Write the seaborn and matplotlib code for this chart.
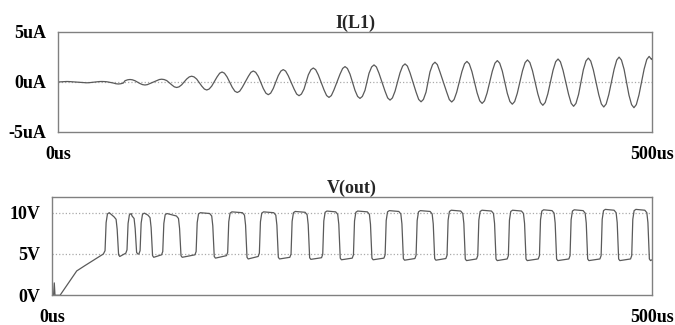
import numpy as np
import pandas as pd
import matplotlib
matplotlib.use("Agg")
import matplotlib.pyplot as plt
import seaborn as sns

# I(L1): extrema (time in us, current in uA)
il1_t = [0, 7.3, 24.1, 36.8, 50.8, 60.6, 73.2, 87.3, 99.9, 112.5, 125.2, 138.1,
         150.9, 164.4, 177.0, 189.6, 202.9, 214.9, 228.1, 241.6, 254.2, 266.0,
         279.5, 292.1, 305.6, 317.3, 331.4, 344.2, 357.0, 369.8, 382.4, 395.2,
         408.1, 420.9, 434.0, 446.4, 459.4, 472.3, 484.8, 497.6, 500]
il1_v = [0, 0.05, -0.08, 0.05, -0.2, 0.25, -0.3, 0.28, -0.55, 0.58, -0.8, 1.0,
         -1.05, 1.1, -1.27, 1.24, -1.37, 1.4, -1.54, 1.54, -1.64, 1.71,
         -1.81, 1.81, -1.98, 1.98, -2.0, 2.06, -2.14, 2.14, -2.22, 2.21,
         -2.33, 2.3, -2.43, 2.39, -2.5, 2.49, -2.57, 2.56, 2.35]

# V(out): start-up part, then one entry per pulse
start_t = [0, 1.3, 1.9, 2.5, 6.7, 20.6, 27.5, 42.8]
start_v = [0, 0, 1.5, 0, 0, 2.95, 3.6, 5.0]
rise_us = [44.7, 63.0, 73.9, 92.8, 120.6, 146.9, 173.3, 199.7, 226.1, 251.7,
           278.1, 303.9, 329.7, 355.3, 380.8, 406.7, 432.2, 458.1, 483.6]
fall_us = [54.7, 69.7, 83.0, 106.7, 134.4, 161.7, 187.8, 213.9, 239.4, 265.8,
           292.0, 318.1, 343.6, 369.2, 394.2, 419.7, 445.6, 471.4, 497.0]
high_v = [10.0, 9.9, 9.95, 9.9, 10.0, 10.1, 10.1, 10.15, 10.2, 10.2,
          10.25, 10.25, 10.3, 10.3, 10.3, 10.35, 10.35, 10.4, 10.4]
high_end_v = [9.5, 9.6, 9.7, 9.6, 9.9, 10.0, 10.0, 10.05, 10.1, 10.1,
              10.15, 10.15, 10.2, 10.2, 10.2, 10.25, 10.25, 10.3, 10.3]
low_v = [4.7, 5.0, 4.6, 4.6, 4.5, 4.4, 4.4, 4.35, 4.3, 4.3,
         4.25, 4.25, 4.2, 4.2, 4.2, 4.2, 4.2, 4.2, 4.2]
low_end_v = [5.1, 5.0, 4.9, 4.9, 4.8, 4.7, 4.6, 4.55, 4.5, 4.5,
             4.45, 4.45, 4.4, 4.4, 4.4, 4.4, 4.4, 4.4, 4.3]

i_ticks = [-5, 0, 5]
i_labels = ["-5uA", "0uA", "5uA"]
v_ticks = [0, 5, 10]
v_labels = ["0V", "5V", "10V"]
t_ticks = [0, 500]
t_labels = ["0us", "500us"]

# rounding of peaks and pulse edges (drawing style only)
peak_dt = [2.0, 4.2]
peak_k = [0.88, 0.51]
rise_dt = [0.4, 1.5, 3.0]
rise_dv = [-1.2, -0.15, 0.0]
fall_dt = [-3.0, -1.3, -0.4]
fall_dv = [0.0, -0.3, -1.5]

# current trace with rounded extrema
it, iv = [il1_t[0]], [il1_v[0]]
for k in range(1, len(il1_t) - 1):
    t0, v0 = il1_t[k], il1_v[k]
    for d, a in zip(peak_dt[::-1], peak_k[::-1]):
        it.append(t0 - d)
        iv.append(a * v0)
    it.append(t0)
    iv.append(v0)
    for d, a in zip(peak_dt, peak_k):
        if t0 + d < il1_t[-1]:
            it.append(t0 + d)
            iv.append(a * v0)
it.append(il1_t[-1])
iv.append(il1_v[-1])

# output trace with rounded pulse edges
vt = list(start_t)
vv = list(start_v)
for k in range(len(rise_us)):
    r, f = rise_us[k], fall_us[k]
    vt += [r - 0.5] + [r + d for d in rise_dt]
    vv += [vv[-1] + 0.4] + [high_v[k] + d for d in rise_dv]
    vt += [f + d for d in fall_dt] + [f + 0.8, f + 1.8]
    vv += [high_end_v[k] + d for d in fall_dv] + [low_v[k] + 0.2, low_v[k]]
    if k + 1 < len(rise_us):
        vt.append(rise_us[k + 1] - 1.5)
        vv.append(low_end_v[k])
vt.append(500)
vv.append(low_end_v[-1])

il1 = pd.DataFrame({"t": it, "v": iv})
vout = pd.DataFrame({"t": vt, "v": vv})

sns.set_style("white")
plt.rcParams["font.family"] = ["Liberation Serif", "DejaVu Serif"]
plt.rcParams["font.weight"] = "bold"

frame = "#808080"
trace = "#5a5a5a"
fig = plt.figure(figsize=(6.75, 3.25), dpi=100)
ax1 = fig.add_axes([58 / 675, 1 - 132 / 325, 594 / 675, 100 / 325])
ax2 = fig.add_axes([52 / 675, 1 - 295.3 / 325, 600 / 675, 98.3 / 325])

sns.lineplot(data=il1, x="t", y="v", ax=ax1, color=trace, linewidth=0.9,
             estimator=None, sort=False)
sns.lineplot(data=vout, x="t", y="v", ax=ax2, color=trace, linewidth=0.9,
             estimator=None, sort=False)

ax1.set_ylim(-5, 5)
ax1.set_yticks(i_ticks, i_labels)
ax1.set_title("I(L1)", fontsize=13, fontweight="bold", pad=3)
ax1.axhline(0, color="#aaaaaa", linestyle=":", linewidth=0.9, zorder=0)

ax2.set_ylim(0, 11.9)
ax2.set_yticks(v_ticks, v_labels)
ax2.set_title("V(out)", fontsize=13, fontweight="bold", pad=3)
for y in [5, 10]:
    ax2.axhline(y, color="#aaaaaa", linestyle=":", linewidth=0.9, zorder=0)

for ax in (ax1, ax2):
    ax.set_xlim(0, 500)
    ax.set_xticks(t_ticks, t_labels)
    ax.set_xlabel("")
    ax.set_ylabel("")
    for s in ax.spines.values():
        s.set_color(frame)
        s.set_linewidth(1)
    ax.tick_params(axis="both", direction="out", length=8, width=1,
                   color=frame, labelsize=13, labelcolor="black")
    ax.tick_params(axis="y", pad=0.5)
    ax.tick_params(axis="x", pad=2)
    for lab in ax.get_xticklabels() + ax.get_yticklabels():
        lab.set_fontweight("bold")

fig.savefig("out.png", dpi=100)
